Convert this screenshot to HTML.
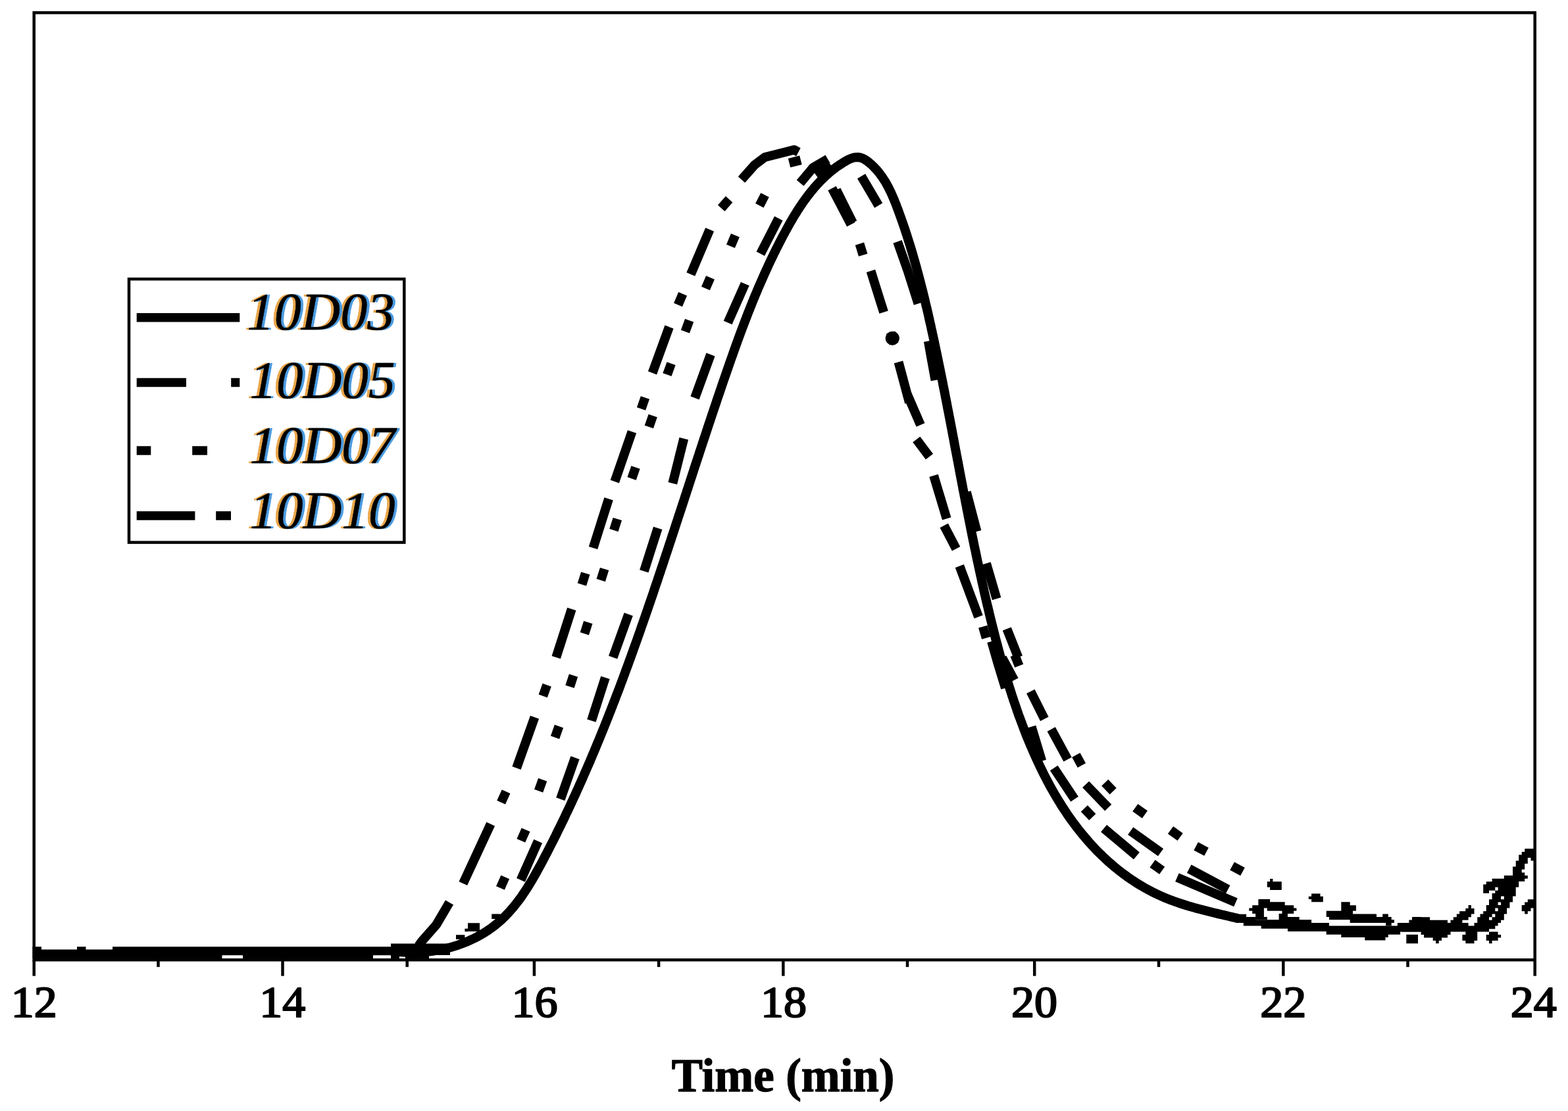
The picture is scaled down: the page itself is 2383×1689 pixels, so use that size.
<!DOCTYPE html>
<html lang="en">
<head>
<meta charset="utf-8">
<title>GPC elution curves</title>
<style>
html,body{margin:0;padding:0;background:#fff;}
body{width:2383px;height:1689px;overflow:hidden;}
svg{display:block;}
.tick{font-family:"Liberation Serif","DejaVu Serif",serif;font-size:67px;fill:#000;text-anchor:middle;stroke:#000;stroke-width:2.2px;stroke-linejoin:round;}
.xlabel{font-family:"Liberation Serif","DejaVu Serif",serif;font-weight:bold;font-size:72px;fill:#000;stroke:#000;stroke-width:1.4px;stroke-linejoin:round;}
.leg{font-family:"Liberation Serif","DejaVu Serif",serif;font-style:italic;font-weight:normal;font-size:79.5px;fill:#000;stroke:#000;stroke-width:0.6px;stroke-linejoin:round;}
</style>
</head>
<body>
<svg width="2383" height="1689" viewBox="0 0 2383 1689">
<rect x="0" y="0" width="2383" height="1689" fill="#fff"/>
<g id="curves" fill="none" stroke="#000" stroke-width="14" stroke-linejoin="round" stroke-linecap="butt">
<path class="solid" d="M594.2 1445.2 L598 1445.8 L601.9 1446.4 L605.8 1446.8 L609.7 1447.2 L613.6 1447.6 L617.6 1447.8 L621.5 1447.9 L625.5 1448 L629.5 1448 L633.5 1447.9 L637.6 1447.8 L641.6 1447.5 L645.6 1447.2 L649.6 1446.8 L653.7 1446.4 L657.7 1445.8 L661.7 1445.2 L665.7 1444.5 L669.7 1443.7 L673.7 1442.9 L677.7 1442 L681.6 1441 L685.6 1439.9 L689.5 1438.8 L693.4 1437.6 L697.2 1436.3 L701 1434.9 L704.8 1433.5 L708.6 1432 L712.3 1430.4 L716 1428.7 L719.6 1427 L723.2 1425.2 L726.8 1423.3 L730.3 1421.4 L733.8 1419.4 L737.2 1417.3 L740.5 1415.1 L743.8 1412.9 L747 1410.6 L750.2 1408.3 L753.3 1405.8 L756.3 1403.4 L759.3 1400.8 L762.2 1398.2 L765 1395.5 L767.8 1392.7 L770.5 1389.9 L773.2 1387.1 L775.8 1384.2 L778.4 1381.2 L780.9 1378.2 L783.4 1375.1 L785.8 1372 L788.2 1368.9 L790.6 1365.7 L792.9 1362.5 L795.1 1359.2 L797.3 1355.9 L799.5 1352.6 L801.7 1349.2 L803.8 1345.8 L805.9 1342.4 L808 1338.9 L810 1335.5 L812 1332 L814 1328.5 L816 1324.9 L817.9 1321.4 L819.8 1317.9 L821.8 1314.3 L823.7 1310.7 L825.6 1307.2 L827.4 1303.6 L829.3 1300 L831.2 1296.4 L833 1292.8 L834.9 1289.2 L836.7 1285.6 L838.5 1282.1 L840.4 1278.5 L842.2 1274.9 L844 1271.3 L845.8 1267.6 L847.5 1264 L849.3 1260.4 L851.1 1256.8 L852.9 1253.2 L854.6 1249.6 L856.4 1246 L858.1 1242.4 L859.8 1238.7 L861.5 1235.1 L863.3 1231.5 L865 1227.8 L866.7 1224.2 L868.4 1220.6 L870 1216.9 L871.7 1213.3 L873.4 1209.7 L875.1 1206 L876.7 1202.4 L878.4 1198.7 L880 1195.1 L881.6 1191.4 L883.3 1187.8 L884.9 1184.1 L886.5 1180.5 L888.1 1176.8 L889.7 1173.1 L891.3 1169.5 L892.9 1165.8 L894.5 1162.1 L896.1 1158.5 L897.6 1154.8 L899.2 1151.1 L900.7 1147.4 L902.3 1143.8 L903.8 1140.1 L905.4 1136.4 L906.9 1132.7 L908.4 1129 L910 1125.3 L911.5 1121.6 L913 1117.9 L914.5 1114.2 L916 1110.5 L917.5 1106.8 L919 1103.1 L920.5 1099.4 L921.9 1095.7 L923.4 1092 L924.9 1088.3 L926.3 1084.6 L927.8 1080.9 L929.2 1077.2 L930.7 1073.5 L932.1 1069.7 L933.6 1066 L935 1062.3 L936.4 1058.6 L937.8 1054.9 L939.3 1051.1 L940.7 1047.4 L942.1 1043.7 L943.5 1039.9 L944.9 1036.2 L946.3 1032.5 L947.7 1028.7 L949.1 1025 L950.4 1021.2 L951.8 1017.5 L953.2 1013.8 L954.6 1010 L955.9 1006.3 L957.3 1002.5 L958.7 998.8 L960 995 L961.4 991.3 L962.7 987.5 L964.1 983.7 L965.4 980 L966.8 976.2 L968.1 972.5 L969.4 968.7 L970.8 964.9 L972.1 961.2 L973.4 957.4 L974.7 953.6 L976 949.9 L977.4 946.1 L978.7 942.3 L980 938.5 L981.3 934.8 L982.6 931 L983.9 927.2 L985.2 923.4 L986.5 919.6 L987.8 915.9 L989.1 912.1 L990.4 908.3 L991.7 904.5 L993 900.7 L994.2 896.9 L995.5 893.1 L996.8 889.3 L998.1 885.5 L999.4 881.7 L1000.6 877.9 L1001.9 874.1 L1003.2 870.4 L1004.4 866.6 L1005.7 862.8 L1007 859 L1008.3 855.1 L1009.5 851.3 L1010.8 847.5 L1012 843.7 L1013.3 839.9 L1014.6 836.1 L1015.8 832.3 L1017.1 828.5 L1018.3 824.7 L1019.6 820.9 L1020.8 817.1 L1022.1 813.3 L1023.3 809.5 L1024.6 805.7 L1025.8 801.9 L1027.1 798 L1028.3 794.2 L1029.6 790.4 L1030.8 786.6 L1032.1 782.8 L1033.3 779 L1034.6 775.2 L1035.8 771.4 L1037.1 767.6 L1038.3 763.7 L1039.6 759.9 L1040.8 756.1 L1042.1 752.3 L1043.3 748.5 L1044.5 744.7 L1045.8 740.9 L1047 737.1 L1048.3 733.3 L1049.5 729.4 L1050.8 725.6 L1052 721.8 L1053.3 718 L1054.5 714.2 L1055.7 710.4 L1057 706.6 L1058.2 702.8 L1059.5 699 L1060.7 695.2 L1062 691.4 L1063.2 687.6 L1064.5 683.8 L1065.7 680 L1067 676.2 L1068.2 672.4 L1069.5 668.6 L1070.8 664.8 L1072 661 L1073.3 657.2 L1074.5 653.4 L1075.8 649.6 L1077 645.8 L1078.3 642 L1079.6 638.2 L1080.8 634.4 L1082.1 630.6 L1083.4 626.8 L1084.6 623.1 L1085.9 619.3 L1087.2 615.5 L1088.5 611.7 L1089.7 607.9 L1091 604.1 L1092.3 600.4 L1093.6 596.6 L1094.9 592.8 L1096.1 589.1 L1097.4 585.3 L1098.7 581.5 L1100 577.7 L1101.3 574 L1102.6 570.2 L1103.9 566.5 L1105.2 562.7 L1106.5 558.9 L1107.8 555.2 L1109.1 551.4 L1110.4 547.7 L1111.8 543.9 L1113.1 540.2 L1114.4 536.4 L1115.7 532.7 L1117.1 529 L1118.4 525.2 L1119.8 521.5 L1121.1 517.8 L1122.5 514 L1123.9 510.3 L1125.2 506.6 L1126.6 502.9 L1128 499.1 L1129.4 495.4 L1130.8 491.7 L1132.2 488 L1133.7 484.3 L1135.1 480.6 L1136.5 476.9 L1138 473.2 L1139.5 469.5 L1140.9 465.8 L1142.4 462.1 L1143.9 458.4 L1145.4 454.7 L1146.9 451 L1148.4 447.4 L1150 443.7 L1151.5 440 L1153.1 436.3 L1154.7 432.7 L1156.3 429 L1157.9 425.4 L1159.5 421.7 L1161.1 418 L1162.7 414.4 L1164.4 410.8 L1166.1 407.1 L1167.7 403.5 L1169.4 399.8 L1171.1 396.2 L1172.9 392.6 L1174.6 389 L1176.4 385.3 L1178.2 381.7 L1179.9 378.1 L1181.8 374.5 L1183.6 370.9 L1185.4 367.3 L1187.3 363.7 L1189.2 360.1 L1191.1 356.5 L1193 353 L1194.9 349.4 L1196.9 345.8 L1198.9 342.3 L1200.9 338.7 L1202.9 335.2 L1205 331.7 L1207 328.2 L1209.2 324.8 L1211.3 321.3 L1213.5 317.9 L1215.7 314.5 L1218 311.2 L1220.2 307.8 L1222.6 304.5 L1224.9 301.3 L1227.3 298.1 L1229.8 294.9 L1232.3 291.7 L1234.8 288.7 L1237.4 285.6 L1240 282.6 L1242.7 279.6 L1245.4 276.7 L1248.1 273.9 L1251 271.1 L1253.8 268.4 L1256.8 265.7 L1259.7 263.1 L1262.8 260.5 L1265.9 258 L1269 255.6 L1272.3 253.2 L1275.5 251 L1278.9 248.8 L1282.3 246.6 L1285.8 244.6 L1289.3 242.7 L1292.9 241.1 L1296.4 239.9 L1300 239.2 L1303.6 239 L1307.2 239.5 L1310.7 240.6 L1314.2 242.4 L1317.5 244.6 L1320.8 247.1 L1324 249.8 L1327 252.7 L1329.8 255.6 L1332.6 258.6 L1335.2 261.7 L1337.6 264.8 L1340 268.1 L1342.3 271.4 L1344.4 274.7 L1346.5 278.2 L1348.4 281.7 L1350.3 285.2 L1352.1 288.8 L1353.9 292.4 L1355.5 296 L1357.1 299.7 L1358.7 303.4 L1360.2 307.2 L1361.7 310.9 L1363.1 314.7 L1364.6 318.5 L1366 322.3 L1367.3 326 L1368.7 329.8 L1370 333.6 L1371.4 337.4 L1372.7 341.2 L1374 345 L1375.3 348.8 L1376.5 352.6 L1377.8 356.4 L1379 360.3 L1380.2 364.1 L1381.4 367.9 L1382.6 371.7 L1383.8 375.5 L1384.9 379.4 L1386.1 383.2 L1387.2 387 L1388.3 390.9 L1389.4 394.7 L1390.5 398.5 L1391.6 402.4 L1392.7 406.2 L1393.7 410.1 L1394.8 413.9 L1395.8 417.8 L1396.8 421.6 L1397.8 425.5 L1398.9 429.4 L1399.8 433.2 L1400.8 437.1 L1401.8 440.9 L1402.8 444.8 L1403.7 448.7 L1404.7 452.6 L1405.6 456.4 L1406.5 460.3 L1407.4 464.2 L1408.4 468.1 L1409.3 471.9 L1410.2 475.8 L1411.1 479.7 L1411.9 483.6 L1412.8 487.5 L1413.7 491.4 L1414.6 495.3 L1415.4 499.2 L1416.3 503.1 L1417.1 507 L1418 510.9 L1418.8 514.8 L1419.7 518.7 L1420.5 522.6 L1421.3 526.5 L1422.1 530.4 L1423 534.3 L1423.8 538.2 L1424.6 542.1 L1425.4 546 L1426.2 549.9 L1427 553.8 L1427.8 557.7 L1428.6 561.7 L1429.4 565.6 L1430.2 569.5 L1431 573.4 L1431.8 577.3 L1432.6 581.2 L1433.3 585.2 L1434.1 589.1 L1434.9 593 L1435.7 596.9 L1436.4 600.9 L1437.2 604.8 L1438 608.7 L1438.7 612.6 L1439.5 616.6 L1440.2 620.5 L1441 624.4 L1441.8 628.4 L1442.5 632.3 L1443.3 636.2 L1444 640.1 L1444.8 644.1 L1445.5 648 L1446.3 651.9 L1447 655.9 L1447.8 659.8 L1448.5 663.7 L1449.3 667.7 L1450 671.6 L1450.7 675.5 L1451.5 679.5 L1452.2 683.4 L1453 687.4 L1453.7 691.3 L1454.5 695.2 L1455.2 699.2 L1456 703.1 L1456.7 707 L1457.5 711 L1458.2 714.9 L1458.9 718.8 L1459.7 722.8 L1460.4 726.7 L1461.2 730.6 L1461.9 734.6 L1462.7 738.5 L1463.4 742.4 L1464.2 746.4 L1465 750.3 L1465.7 754.2 L1466.5 758.2 L1467.2 762.1 L1468 766 L1468.8 770 L1469.5 773.9 L1470.3 777.8 L1471.1 781.7 L1471.8 785.7 L1472.6 789.6 L1473.4 793.5 L1474.2 797.5 L1475 801.4 L1475.7 805.3 L1476.5 809.2 L1477.3 813.2 L1478.1 817.1 L1478.9 821 L1479.7 824.9 L1480.5 828.8 L1481.3 832.8 L1482.2 836.7 L1483 840.6 L1483.8 844.5 L1484.6 848.4 L1485.4 852.3 L1486.3 856.2 L1487.1 860.2 L1488 864.1 L1488.8 868 L1489.7 871.9 L1490.5 875.8 L1491.4 879.7 L1492.2 883.6 L1493.1 887.5 L1494 891.4 L1494.9 895.3 L1495.7 899.2 L1496.6 903.1 L1497.5 907 L1498.4 910.9 L1499.3 914.8 L1500.2 918.7 L1501.2 922.5 L1502.1 926.4 L1503 930.3 L1503.9 934.2 L1504.9 938.1 L1505.8 942 L1506.8 945.8 L1507.7 949.7 L1508.7 953.6 L1509.7 957.5 L1510.7 961.3 L1511.7 965.2 L1512.6 969.1 L1513.6 972.9 L1514.7 976.8 L1515.7 980.6 L1516.7 984.5 L1517.7 988.3 L1518.8 992.2 L1519.8 996 L1520.9 999.9 L1521.9 1003.7 L1523 1007.6 L1524.1 1011.4 L1525.2 1015.2 L1526.3 1019.1 L1527.4 1022.9 L1528.6 1026.7 L1529.7 1030.5 L1530.9 1034.4 L1532 1038.2 L1533.2 1042 L1534.4 1045.8 L1535.6 1049.6 L1536.8 1053.4 L1538 1057.2 L1539.3 1061 L1540.5 1064.8 L1541.8 1068.5 L1543.1 1072.3 L1544.4 1076.1 L1545.7 1079.9 L1547 1083.6 L1548.3 1087.4 L1549.7 1091.1 L1551.1 1094.9 L1552.5 1098.6 L1553.9 1102.4 L1555.3 1106.1 L1556.7 1109.8 L1558.2 1113.5 L1559.6 1117.3 L1561.1 1121 L1562.6 1124.7 L1564.2 1128.4 L1565.7 1132.1 L1567.3 1135.7 L1568.9 1139.4 L1570.5 1143.1 L1572.1 1146.8 L1573.7 1150.4 L1575.4 1154.1 L1577.1 1157.7 L1578.8 1161.4 L1580.5 1165 L1582.3 1168.6 L1584 1172.2 L1585.8 1175.8 L1587.6 1179.4 L1589.5 1183 L1591.3 1186.5 L1593.2 1190.1 L1595.1 1193.6 L1597 1197.1 L1599 1200.6 L1601 1204.1 L1603 1207.6 L1605 1211 L1607.1 1214.5 L1609.2 1217.9 L1611.3 1221.3 L1613.4 1224.7 L1615.6 1228.1 L1617.8 1231.4 L1620 1234.8 L1622.2 1238.1 L1624.5 1241.4 L1626.8 1244.6 L1629.1 1247.9 L1631.5 1251.1 L1633.9 1254.3 L1636.3 1257.5 L1638.8 1260.7 L1641.2 1263.8 L1643.8 1266.9 L1646.3 1270 L1648.9 1273.1 L1651.5 1276.1 L1654.1 1279.1 L1656.8 1282.1 L1659.5 1285.1 L1662.2 1288 L1664.9 1290.9 L1667.7 1293.8 L1670.5 1296.6 L1673.4 1299.4 L1676.3 1302.2 L1679.2 1304.9 L1682.1 1307.6 L1685 1310.3 L1688 1312.9 L1691.1 1315.5 L1694.1 1318.1 L1697.2 1320.6 L1700.3 1323.1 L1703.4 1325.5 L1706.6 1328 L1709.8 1330.3 L1713 1332.7 L1716.3 1335 L1719.5 1337.2 L1722.9 1339.4 L1726.2 1341.6 L1729.6 1343.7 L1733 1345.8 L1736.4 1347.8 L1739.8 1349.8 L1743.3 1351.7 L1746.8 1353.6 L1750.4 1355.4 L1753.9 1357.2 L1757.5 1359 L1761.1 1360.7 L1764.8 1362.3 L1768.4 1363.9 L1772.1 1365.4 L1775.9 1366.9 L1779.6 1368.4 L1783.4 1369.8 L1787.2 1371.1 L1791 1372.5 L1794.8 1373.7 L1798.7 1375 L1802.5 1376.2 L1806.4 1377.4 L1810.3 1378.5 L1814.1 1379.6 L1818 1380.7 L1821.9 1381.8 L1825.8 1382.8 L1829.7 1383.8 L1833.6 1384.8 L1837.5 1385.8 L1841.5 1386.8 L1845.3 1387.7 L1849.2 1388.6 L1853.1 1389.6 L1857 1390.5 L1860.9 1391.4 L1864.7 1392.3 L1868.6 1393.2 L1872.4 1394.1 L1876.2 1395 L1880 1395.9 L1881.8 1396.4"/>
<path d="M1132.3 431.5 L1106.1 490.5"/>
<path d="M1183.3 332 L1155.8 385.7"/>
<path d="M1258 241.7 L1235.7 254.8 L1216.1 278.3"/>
<path d="M1309 267.9 L1335.2 312.4"/>
<path d="M1364 367.4 L1379.7 411.9 L1395.5 461.7"/>
<path d="M1078.6 349 L1049.8 417.1"/>
<path d="M1127 273.1 L1146.7 250.8 L1162.4 239 L1183.3 233.8 L1206.9 227.8 L1213.4 231.2"/>
<path d="M1264.5 286.2 L1293.3 341.2"/>
<path d="M1271.1 288.8 L1295.9 338.6"/>
<path d="M1323.4 411.9 L1343.1 474.7"/>
<path d="M960.5 656.2 L934.3 732.1"/>
<path d="M925.1 758.3 L901.5 833"/>
<path d="M868.8 925.9 L845.2 999.3"/>
<path d="M999.7 802.8 L978.8 868.3"/>
<path d="M955.2 933.8 L931.6 999.3"/>
<path d="M1039.3 666.7 L1022.3 734.8"/>
<path d="M1392.8 668 L1412.5 694.2"/>
<path d="M1419 723 L1438.7 788.4"/>
<path d="M1434.7 798.9 L1453.1 834.3"/>
<path d="M1458.3 860.5 L1487.1 937.7"/>
<path d="M1468.8 747.9 L1484.5 808.1"/>
<path d="M1498.9 856.5 L1514.6 910.2"/>
<path d="M1530.3 956.1 L1547.4 999.3"/>
<path d="M919.9 1030.1 L898.9 1095.6"/>
<path d="M874 1151.9 L851.8 1214.8"/>
<path d="M817.7 1278.9 L791.5 1337.8"/>
<path d="M812.5 1090.4 L785 1167.6"/>
<path d="M745.7 1252.7 L703.8 1343.1"/>
<path d="M1523.1 1000 L1541.4 1034"/>
<path d="M1567.6 1104.8 L1583.3 1157.1"/>
<path d="M1601.7 1167.6 L1633.1 1214.8"/>
<path d="M1566.3 1051.1 L1587.3 1093"/>
<path d="M1597.7 1108.7 L1622.6 1154.5"/>
<path d="M1650.1 1192.5 L1684.2 1227.8"/>
<path d="M1677.6 1259.3 L1727.4 1301.2"/>
<path d="M1718.2 1263.2 L1764 1295.9"/>
<path d="M1807.2 1320.8 L1866.2 1352.2"/>
<path d="M1788.9 1333.9 L1878 1371.9"/>
<path d="M1080 539 L1056 605"/>
<path d="M1017 497 L991.5 567"/>
<path d="M1365.5 550.4 L1382 612"/>
<path d="M1378.5 598.8 L1399 646"/>
<path d="M1240 266 L1262 250"/>
<path d="M1410.8 518.5 L1415.5 545 L1421.5 578"/>
<path d="M1507 975 L1517 1010 L1528 1046"/>
<path d="M683 1372 L663 1406 L641 1431 L636 1438"/>
<path d="M1096.2 316.5 L1108.1 303"/>
<path d="M1162.5 296.5 L1154.3 312.5"/>
<path d="M1117.4 357.8 L1110.4 374.4"/>
<path d="M1079.5 421.9 L1072.4 438.5"/>
<path d="M1037.6 446.8 L1030.5 463.4"/>
<path d="M1047.6 487.2 L1041.4 504.2"/>
<path d="M1020.1 552.7 L1013.9 569.6"/>
<path d="M1199.5 247.8 L1216.9 243.4"/>
<path d="M1306.4 370.6 L1311.7 387.7"/>
<path d="M1353.8 505.3 L1358.5 522.7"/>
<path d="M980.4 604.5 L974.5 621.5"/>
<path d="M992.2 632 L986.3 649"/>
<path d="M966 710.5 L960.1 727.6"/>
<path d="M938.3 789 L932.9 806.2"/>
<path d="M889.8 871.5 L884.4 888.7"/>
<path d="M918.6 865 L913.2 882.1"/>
<path d="M893.8 946.2 L888.3 963.3"/>
<path d="M1493.8 952.6 L1498.8 969.9"/>
<path d="M871.5 1026.8 L866 1043.9"/>
<path d="M849.5 1104.1 L843.5 1121.1"/>
<path d="M824.7 1185.3 L818.6 1202.3"/>
<path d="M799.1 1261.5 L791.8 1278"/>
<path d="M767.7 1333.5 L760.4 1350"/>
<path d="M831.2 1041.3 L825.2 1058.2"/>
<path d="M769.1 1203.4 L761.6 1219.8"/>
<path d="M1542.1 995.6 L1548.7 1012.3"/>
<path d="M1635.3 1147.9 L1643.9 1163.7"/>
<path d="M1679.2 1189.9 L1691.7 1202.9"/>
<path d="M1647.8 1229.2 L1660.3 1242.2"/>
<path d="M1725.3 1227.9 L1739.9 1238.3"/>
<path d="M1779 1261.9 L1793.6 1272.4"/>
<path d="M1751.5 1313 L1766.1 1323.4"/>
<path d="M1817.6 1286.5 L1833.5 1294.9"/>
<path d="M1872.6 1316.6 L1888.5 1325.1"/>
</g>
<g id="tail" fill="#000" fill-rule="evenodd" stroke="none">
<path d="M1880 1389.7 L1894.1 1389.7 L1894.1 1393.9 L1908.1 1393.9 L1908.1 1398.2 L1943.6 1398.2 L1957 1393.9 L1974.7 1393.9 L1974.7 1398.2 L1993.1 1398.2 L1993.1 1403.1 L2019.9 1403.1 L2019.9 1407.4 L2106.1 1407.4 L2114.7 1407.4 L2123.8 1407.4 L2123.8 1403.1 L2141.5 1403.1 L2141.5 1398.8 L2146.4 1398.8 L2146.4 1393.9 L2160 1393.9 L2160 1416.6 L2128.1 1416.6 L2128.1 1420.8 L2109.8 1420.8 L2109.8 1425.1 L2105.5 1425.1 L2105.5 1429.4 L2074.3 1429.4 L2074.3 1425.1 L2038.3 1425.1 L2038.3 1420.8 L2015.7 1420.8 L2015.7 1415.9 L1957 1415.9 L1957 1411.7 L1916.7 1411.7 L1916.7 1407.4 L1889.8 1407.4 L1889.8 1403.1 L1880 1403.1Z"/>
<path d="M1898.3 1380.5 L1903.2 1380.5 L1903.2 1376.2 L1912.4 1376.2 L1912.4 1367.1 L1930.1 1367.1 L1930.1 1371.3 L1952.7 1371.3 L1952.7 1376.2 L1966.2 1376.2 L1966.2 1380.5 L1970.4 1380.5 L1970.4 1384.8 L1966.2 1384.8 L1966.2 1389.1 L1957 1389.1 L1957 1398.2 L1908.1 1398.2 L1908.1 1389.1 L1903.2 1389.1 L1903.2 1384.8 L1898.3 1384.8Z M1920.9 1380.5 L1925.8 1380.5 L1925.8 1384.8 L1948.4 1384.8 L1948.4 1389.1 L1943.6 1389.1 L1943.6 1398.2 L1925.8 1398.2 L1925.8 1393.9 L1920.9 1393.9Z"/>
<path d="M2015.7 1384.8 L2038.3 1384.8 L2038.3 1371.3 L2051.7 1371.3 L2051.7 1376.2 L2060.9 1376.2 L2060.9 1384.8 L2056 1384.8 L2056 1389.4 L2092 1389.4 L2092 1393.9 L2101.2 1393.9 L2101.2 1389.4 L2109.8 1389.4 L2109.8 1393.9 L2114.7 1393.9 L2114.7 1398.2 L2118.9 1398.2 L2118.9 1403.1 L2114.7 1403.1 L2114.7 1407.4 L2106.1 1407.4 L2106.1 1403.1 L2051.7 1403.1 L2051.7 1398.2 L2019.9 1398.2 L2019.9 1393.9 L2015.7 1393.9Z"/>
<path d="M1925.8 1340.2 L1930.1 1340.2 L1930.1 1335.9 L1934.4 1335.9 L1934.4 1340.2 L1947.8 1340.2 L1947.8 1353 L1930.1 1353 L1930.1 1348.7 L1925.8 1348.7Z"/>
<path d="M1993.1 1358.5 L2006.5 1358.5 L2006.5 1362.8 L2010.8 1362.8 L2010.8 1371.3 L1993.1 1371.3 L1993.1 1367.1 L1988.8 1367.1 L1988.8 1362.8 L1993.1 1362.8Z"/>
<path d="M2137.3 1420.8 L2155 1420.8 L2155 1434.3 L2137.3 1434.3Z"/>
<path d="M2130 1403 L2141.7 1403 L2141.7 1398.7 L2146 1398.7 L2146 1394.2 L2173.1 1394.2 L2173.1 1398.7 L2200 1398.7 L2200 1403 L2204.5 1403 L2204.5 1398.7 L2208.8 1398.7 L2208.8 1394.2 L2213.8 1394.2 L2213.8 1389.5 L2218.1 1389.5 L2218.1 1385.2 L2227.3 1385.2 L2227.3 1380.9 L2231.6 1380.9 L2231.6 1375.9 L2235.9 1375.9 L2235.9 1380.9 L2240.5 1380.9 L2240.5 1389.5 L2235.9 1389.5 L2235.9 1394.2 L2231.6 1394.2 L2231.6 1398.7 L2222.4 1398.7 L2222.4 1403 L2231.6 1403 L2231.6 1407.6 L2240.5 1407.6 L2240.5 1403 L2245.2 1403 L2245.2 1394.2 L2249.5 1394.2 L2249.5 1389.5 L2254.2 1389.5 L2254.2 1385.2 L2258.7 1385.2 L2258.7 1375.9 L2263 1375.9 L2263 1367.3 L2267.6 1367.3 L2267.6 1358.1 L2272.3 1358.1 L2272.3 1353.8 L2263 1353.8 L2263 1358.1 L2254.2 1358.1 L2254.2 1344.5 L2258.7 1344.5 L2258.7 1340.2 L2267.6 1340.2 L2267.6 1335.7 L2285.8 1335.7 L2285.8 1331 L2299 1331 L2299 1317.4 L2303.7 1317.4 L2303.7 1308.4 L2308.2 1308.4 L2308.2 1299.6 L2312.7 1299.6 L2312.7 1295 L2317.2 1295 L2317.2 1290.3 L2331 1290.3 L2331 1308.4 L2326.5 1308.4 L2326.5 1303.9 L2321.8 1303.9 L2321.8 1313.1 L2317.2 1313.1 L2317.2 1321.7 L2312.7 1321.7 L2312.7 1326.4 L2317.2 1326.4 L2317.2 1331 L2321.8 1331 L2321.8 1335.7 L2317.2 1335.7 L2317.2 1340 L2308.2 1340 L2308.2 1348.8 L2303.7 1348.8 L2303.7 1362.4 L2299 1362.4 L2299 1371.6 L2294.4 1371.6 L2294.4 1380.5 L2290.1 1380.5 L2290.1 1389.5 L2285.8 1389.5 L2285.8 1398.7 L2281.1 1398.7 L2281.1 1403 L2276.6 1403 L2276.6 1407.6 L2272.3 1407.6 L2272.3 1412.3 L2263 1412.3 L2263 1416.6 L2245.2 1416.6 L2245.2 1430.1 L2240.5 1430.1 L2240.5 1434.2 L2227.3 1434.2 L2227.3 1430.1 L2222.4 1430.1 L2222.4 1421.1 L2227.3 1421.1 L2227.3 1416.6 L2204.5 1416.6 L2204.5 1421.1 L2200 1421.1 L2200 1425.6 L2191 1425.6 L2191 1430.1 L2186.7 1430.1 L2186.7 1434.2 L2182.1 1434.2 L2182.1 1430.1 L2177.7 1430.1 L2177.7 1425.6 L2164.1 1425.6 L2164.1 1421.1 L2159.6 1421.1 L2159.6 1416.6 L2130 1416.6Z M2272.3 1348.8 L2276.6 1348.8 L2276.6 1353.8 L2272.3 1353.8Z M2281.1 1362.4 L2285.8 1362.4 L2285.8 1367.3 L2281.1 1367.3Z M2276.6 1371.6 L2281.1 1371.6 L2281.1 1375.9 L2276.6 1375.9Z M2272.3 1380.5 L2276.6 1380.5 L2276.6 1385.2 L2272.3 1385.2Z M2267.6 1389.5 L2272.3 1389.5 L2272.3 1394.2 L2267.6 1394.2Z M2263 1394.2 L2267.6 1394.2 L2267.6 1398.7 L2263 1398.7Z"/>
<path d="M2263 1416.6 L2276.6 1416.6 L2276.6 1421.1 L2281.1 1421.1 L2281.1 1425.6 L2276.6 1425.6 L2276.6 1430.1 L2267.6 1430.1 L2267.6 1434.2 L2263 1434.2 L2263 1430.1 L2258.7 1430.1 L2258.7 1421.1 L2263 1421.1Z"/>
<path d="M2321.8 1367.3 L2331 1367.3 L2331 1380.5 L2326.5 1380.5 L2326.5 1385.2 L2321.8 1385.2 L2321.8 1389.5 L2317.2 1389.5 L2317.2 1385.2 L2312.7 1385.2 L2312.7 1375.9 L2317.2 1375.9 L2317.2 1371.6 L2321.8 1371.6Z"/>
</g>
<g id="baseline" fill="#000" stroke="none">
<path fill-rule="evenodd" d="M49.5 1439.2H63V1443.5H117V1439.2H130.5V1443.5H171V1439.2H594V1434.6H684V1452H652V1457.5H49.5Z M337.5 1452.3H369V1457H337.5Z M567 1452.2H594V1457H567Z M607 1448H616V1457H607Z"/>
<circle cx="1356.3" cy="514.3" r="10.6"/>
<path d="M693 1421.3H706.4V1428H693Z M711 1403.2H729V1416H711Z M706.4 1411.8H711V1416.3H706.4Z M747.2 1389.5H760.6V1397H747.2Z"/>
</g>
<g id="frame" stroke="#000" stroke-width="4.5" fill="none" stroke-linecap="butt">
<rect x="51.7" y="19.3" width="2281" height="1440"/>
<line x1="51.7" y1="1459.3" x2="51.7" y2="1483.7"/>
<line x1="240.5" y1="1459.3" x2="240.5" y2="1470.1"/>
<line x1="429.5" y1="1459.3" x2="429.5" y2="1483.7"/>
<line x1="618.7" y1="1459.3" x2="618.7" y2="1470.1"/>
<line x1="811.9" y1="1459.3" x2="811.9" y2="1483.7"/>
<line x1="1001.1" y1="1459.3" x2="1001.1" y2="1470.1"/>
<line x1="1190.3" y1="1459.3" x2="1190.3" y2="1483.7"/>
<line x1="1379" y1="1459.3" x2="1379" y2="1470.1"/>
<line x1="1572.2" y1="1459.3" x2="1572.2" y2="1483.7"/>
<line x1="1761" y1="1459.3" x2="1761" y2="1470.1"/>
<line x1="1950.3" y1="1459.3" x2="1950.3" y2="1483.7"/>
<line x1="2139.5" y1="1459.3" x2="2139.5" y2="1470.1"/>
<line x1="2332.7" y1="1459.3" x2="2332.7" y2="1483.7"/>
</g>
<g id="ticklabels" class="tick">
<text x="51.7" y="1545.9" textLength="70" lengthAdjust="spacingAndGlyphs">12</text>
<text x="429.3" y="1545.9" textLength="70" lengthAdjust="spacingAndGlyphs">14</text>
<text x="812.6" y="1545.9" textLength="70" lengthAdjust="spacingAndGlyphs">16</text>
<text x="1191" y="1545.9" textLength="70" lengthAdjust="spacingAndGlyphs">18</text>
<text x="1572" y="1545.9" textLength="70" lengthAdjust="spacingAndGlyphs">20</text>
<text x="1950.3" y="1545.9" textLength="70" lengthAdjust="spacingAndGlyphs">22</text>
<text x="2330.8" y="1545.9" textLength="70" lengthAdjust="spacingAndGlyphs">24</text>
</g>
<text class="xlabel" x="1020.7" y="1658.7" textLength="338.5" lengthAdjust="spacingAndGlyphs">Time (min)</text>
<defs>
<filter id="cleartype" x="-5%" y="-15%" width="110%" height="130%" color-interpolation-filters="sRGB">
<feOffset in="SourceAlpha" dx="-4.2" dy="0" result="la"/>
<feFlood flood-color="#e9a64a" result="lc"/>
<feComposite in="lc" in2="la" operator="in" result="lf"/>
<feOffset in="SourceAlpha" dx="4.2" dy="0" result="ra"/>
<feFlood flood-color="#4a9be0" result="rc"/>
<feComposite in="rc" in2="ra" operator="in" result="rf"/>
<feMerge><feMergeNode in="lf"/><feMergeNode in="rf"/><feMergeNode in="SourceGraphic"/></feMerge>
</filter>
</defs>
<g id="legend">
<rect x="196" y="424.2" width="418.3" height="400.4" fill="#fff" stroke="#000" stroke-width="4.5"/>
<g stroke="#000" stroke-width="13.4" fill="none">
<path d="M207.7 482.7H364.3"/>
<path d="M207.7 581.5H283 M351.2 581.5H364.3"/>
<path d="M207.7 685H229.3 M292.2 685H315"/>
<path d="M207.7 784H296.4 M328.2 784H351"/>
</g>
<g class="leg" filter="url(#cleartype)">
<text x="375.5" y="501.2" textLength="224" lengthAdjust="spacingAndGlyphs">10D03</text>
<text x="379.5" y="605.2" textLength="221" lengthAdjust="spacingAndGlyphs">10D05</text>
<text x="379.5" y="703.6" textLength="221" lengthAdjust="spacingAndGlyphs">10D07</text>
<text x="379.5" y="802.8" textLength="221" lengthAdjust="spacingAndGlyphs">10D10</text>
</g>
</g>
</svg>
</body>
</html>
